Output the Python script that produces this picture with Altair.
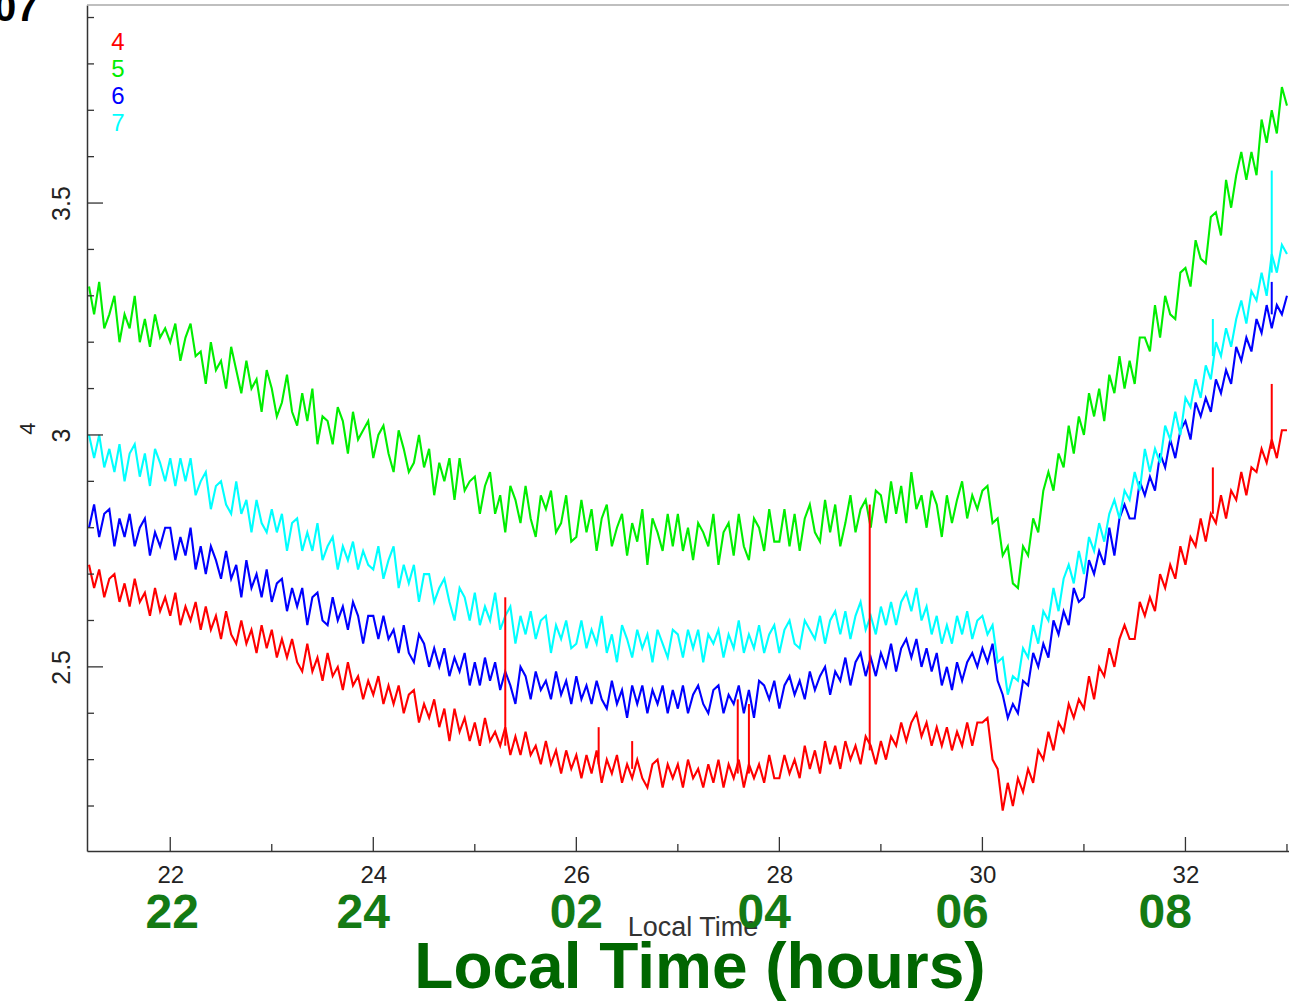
import altair as alt
import pandas as pd

SERIES = ["4", "5", "6", "7"]
COLORS = ["#ff0000", "#00ee00", "#0000ff", "#00ffff"]

# sampling times (hours), every 3 minutes from 21.20 to 33.00
TIMES = [round(21.2 + 0.05 * i, 2) for i in range(237)]

V4 = [
    2.72, 2.67, 2.71, 2.65, 2.69, 2.70, 2.64, 2.68, 2.63, 2.69, 2.64, 2.66, 2.61, 2.67, 2.62, 2.65,
    2.61, 2.66, 2.59, 2.63, 2.60, 2.64, 2.58, 2.63, 2.58, 2.61, 2.56, 2.62, 2.57, 2.55, 2.60, 2.55, 2.58, 2.53, 2.59, 2.54,
    2.58, 2.52, 2.56, 2.52, 2.56, 2.51, 2.49, 2.55, 2.49, 2.52, 2.47, 2.53, 2.48, 2.50, 2.45, 2.51, 2.46, 2.48, 2.43, 2.47,
    2.44, 2.48, 2.42, 2.46, 2.42, 2.46, 2.40, 2.44, 2.45, 2.38, 2.42, 2.39, 2.43, 2.37, 2.41, 2.34, 2.41, 2.36, 2.39, 2.34,
    2.38, 2.33, 2.39, 2.34, 2.36, 2.33, 2.37, 2.31, 2.35, 2.31, 2.36, 2.31, 2.33, 2.29, 2.34, 2.29, 2.32, 2.27, 2.32, 2.28,
    2.31, 2.26, 2.31, 2.27, 2.32, 2.25, 2.30, 2.27, 2.31, 2.25, 2.29, 2.26, 2.30, 2.26, 2.24, 2.29, 2.30, 2.24, 2.29, 2.26,
    2.29, 2.24, 2.30, 2.26, 2.28, 2.24, 2.29, 2.25, 2.30, 2.24, 2.29, 2.26, 2.30, 2.24, 2.29, 2.26, 2.29, 2.25, 2.31, 2.26,
    2.26, 2.31, 2.27, 2.30, 2.26, 2.33, 2.28, 2.32, 2.27, 2.34, 2.29, 2.33, 2.28, 2.34, 2.30, 2.33, 2.29, 2.35, 2.33, 2.29,
    2.34, 2.30, 2.35, 2.33, 2.38, 2.34, 2.38, 2.40, 2.35, 2.38, 2.33, 2.37, 2.33, 2.37, 2.32, 2.36, 2.33, 2.38, 2.33, 2.38,
    2.38, 2.39, 2.30, 2.28, 2.19, 2.25, 2.20, 2.26, 2.23, 2.28, 2.25, 2.32, 2.30, 2.36, 2.32, 2.38, 2.36, 2.42, 2.39, 2.43,
    2.41, 2.48, 2.43, 2.50, 2.48, 2.54, 2.50, 2.56, 2.59, 2.56, 2.56, 2.64, 2.61, 2.65, 2.62, 2.70, 2.67, 2.72, 2.69, 2.76,
    2.72, 2.78, 2.76, 2.82, 2.77, 2.83, 2.81, 2.87, 2.82, 2.88, 2.86, 2.92, 2.87, 2.93, 2.92, 2.97, 2.94, 2.99, 2.95, 3.01,
    3.01,
]

V5 = [
    3.32, 3.26, 3.33, 3.23, 3.26, 3.30, 3.20, 3.26, 3.23, 3.30, 3.20, 3.25, 3.19, 3.26, 3.21, 3.23,
    3.20, 3.24, 3.16, 3.21, 3.24, 3.17, 3.18, 3.11, 3.20, 3.14, 3.16, 3.10, 3.19, 3.14, 3.09, 3.16, 3.10, 3.12, 3.05, 3.14,
    3.10, 3.04, 3.07, 3.13, 3.05, 3.02, 3.09, 3.03, 3.10, 2.98, 3.04, 3.03, 2.98, 3.06, 3.03, 2.96, 3.05, 2.99, 3.01, 3.03,
    2.95, 3.00, 3.02, 2.96, 2.92, 3.01, 2.97, 2.92, 2.94, 3.00, 2.93, 2.97, 2.87, 2.94, 2.90, 2.95, 2.86, 2.95, 2.88, 2.90,
    2.91, 2.83, 2.89, 2.92, 2.83, 2.87, 2.79, 2.89, 2.86, 2.81, 2.89, 2.82, 2.78, 2.87, 2.84, 2.88, 2.79, 2.81, 2.87, 2.77,
    2.78, 2.86, 2.79, 2.84, 2.75, 2.82, 2.85, 2.76, 2.80, 2.83, 2.74, 2.81, 2.77, 2.84, 2.72, 2.82, 2.79, 2.75, 2.83, 2.76,
    2.83, 2.75, 2.80, 2.73, 2.81, 2.79, 2.76, 2.83, 2.72, 2.79, 2.81, 2.74, 2.83, 2.76, 2.73, 2.82, 2.80, 2.75, 2.84, 2.77,
    2.77, 2.84, 2.76, 2.83, 2.75, 2.82, 2.85, 2.79, 2.77, 2.86, 2.79, 2.85, 2.76, 2.81, 2.87, 2.79, 2.84, 2.86, 2.80, 2.88,
    2.87, 2.81, 2.90, 2.83, 2.89, 2.81, 2.92, 2.84, 2.87, 2.80, 2.88, 2.85, 2.78, 2.87, 2.81, 2.86, 2.90, 2.82, 2.87, 2.84,
    2.88, 2.89, 2.81, 2.82, 2.74, 2.76, 2.68, 2.67, 2.76, 2.74, 2.82, 2.79, 2.88, 2.92, 2.88, 2.96, 2.93, 3.02, 2.96, 3.04,
    3.00, 3.09, 3.04, 3.10, 3.03, 3.13, 3.09, 3.17, 3.10, 3.16, 3.11, 3.21, 3.21, 3.18, 3.28, 3.21, 3.30, 3.26, 3.25, 3.35,
    3.36, 3.32, 3.42, 3.38, 3.37, 3.47, 3.48, 3.43, 3.55, 3.49, 3.56, 3.61, 3.55, 3.61, 3.56, 3.68, 3.63, 3.70, 3.65, 3.75,
    3.71,
]

V6 = [
    2.80, 2.85, 2.78, 2.83, 2.84, 2.76, 2.82, 2.78, 2.83, 2.76, 2.80, 2.82, 2.74, 2.79, 2.76, 2.80,
    2.80, 2.73, 2.78, 2.74, 2.80, 2.71, 2.76, 2.70, 2.76, 2.73, 2.69, 2.75, 2.69, 2.72, 2.65, 2.73, 2.67, 2.70, 2.65, 2.71,
    2.64, 2.68, 2.69, 2.62, 2.67, 2.63, 2.67, 2.59, 2.65, 2.66, 2.60, 2.59, 2.65, 2.60, 2.63, 2.58, 2.64, 2.61, 2.55, 2.61,
    2.61, 2.56, 2.61, 2.56, 2.58, 2.53, 2.59, 2.53, 2.51, 2.57, 2.55, 2.50, 2.54, 2.50, 2.54, 2.48, 2.52, 2.49, 2.53, 2.46,
    2.51, 2.46, 2.52, 2.47, 2.51, 2.45, 2.49, 2.46, 2.42, 2.50, 2.48, 2.43, 2.49, 2.45, 2.47, 2.43, 2.49, 2.44, 2.47, 2.42,
    2.48, 2.43, 2.46, 2.42, 2.47, 2.43, 2.41, 2.47, 2.42, 2.45, 2.39, 2.46, 2.42, 2.46, 2.40, 2.45, 2.42, 2.46, 2.40, 2.45,
    2.41, 2.46, 2.40, 2.44, 2.46, 2.42, 2.40, 2.45, 2.46, 2.40, 2.44, 2.42, 2.46, 2.40, 2.45, 2.39, 2.47, 2.46, 2.43, 2.47,
    2.41, 2.46, 2.48, 2.44, 2.47, 2.43, 2.49, 2.45, 2.48, 2.50, 2.44, 2.49, 2.47, 2.52, 2.46, 2.51, 2.53, 2.48, 2.52, 2.48,
    2.53, 2.50, 2.55, 2.49, 2.54, 2.56, 2.52, 2.56, 2.50, 2.54, 2.49, 2.53, 2.46, 2.50, 2.45, 2.51, 2.47, 2.51, 2.53, 2.50,
    2.54, 2.51, 2.55, 2.47, 2.44, 2.39, 2.42, 2.40, 2.47, 2.46, 2.53, 2.50, 2.55, 2.52, 2.60, 2.57, 2.62, 2.59, 2.67, 2.64,
    2.65, 2.73, 2.70, 2.75, 2.72, 2.80, 2.74, 2.82, 2.85, 2.82, 2.82, 2.90, 2.87, 2.91, 2.88, 2.96, 2.93, 2.99, 2.95, 3.01,
    3.03, 2.99, 3.07, 3.04, 3.08, 3.05, 3.12, 3.09, 3.14, 3.11, 3.19, 3.16, 3.21, 3.18, 3.25, 3.22, 3.28, 3.23, 3.28, 3.26,
    3.30,
]

V7 = [
    3.00, 2.95, 3.00, 2.93, 2.97, 2.92, 2.98, 2.90, 2.96, 2.98, 2.91, 2.96, 2.89, 2.97, 2.94, 2.90,
    2.95, 2.89, 2.95, 2.90, 2.95, 2.87, 2.90, 2.92, 2.84, 2.89, 2.90, 2.85, 2.83, 2.90, 2.83, 2.86, 2.79, 2.86, 2.81, 2.79,
    2.84, 2.79, 2.83, 2.75, 2.81, 2.82, 2.75, 2.79, 2.75, 2.81, 2.73, 2.76, 2.78, 2.71, 2.76, 2.73, 2.77, 2.71, 2.75, 2.72,
    2.71, 2.76, 2.69, 2.73, 2.76, 2.67, 2.72, 2.68, 2.72, 2.64, 2.70, 2.70, 2.64, 2.67, 2.69, 2.64, 2.60, 2.67, 2.65, 2.60,
    2.66, 2.59, 2.63, 2.60, 2.66, 2.58, 2.61, 2.63, 2.55, 2.61, 2.57, 2.62, 2.56, 2.60, 2.61, 2.53, 2.59, 2.56, 2.60, 2.54,
    2.55, 2.60, 2.54, 2.58, 2.55, 2.61, 2.53, 2.57, 2.51, 2.59, 2.56, 2.52, 2.58, 2.54, 2.57, 2.51, 2.58, 2.55, 2.52, 2.58,
    2.57, 2.52, 2.58, 2.54, 2.58, 2.51, 2.57, 2.55, 2.58, 2.52, 2.57, 2.54, 2.60, 2.53, 2.57, 2.54, 2.59, 2.53, 2.57, 2.59,
    2.53, 2.58, 2.60, 2.55, 2.54, 2.60, 2.58, 2.56, 2.61, 2.55, 2.60, 2.62, 2.57, 2.62, 2.56, 2.61, 2.64, 2.58, 2.61, 2.57,
    2.63, 2.59, 2.64, 2.59, 2.64, 2.66, 2.62, 2.67, 2.60, 2.63, 2.57, 2.61, 2.55, 2.59, 2.55, 2.61, 2.57, 2.62, 2.56, 2.60,
    2.61, 2.57, 2.59, 2.51, 2.52, 2.44, 2.48, 2.47, 2.54, 2.52, 2.59, 2.55, 2.62, 2.60, 2.67, 2.62, 2.69, 2.72, 2.68, 2.75,
    2.70, 2.78, 2.75, 2.81, 2.77, 2.83, 2.86, 2.82, 2.88, 2.86, 2.92, 2.88, 2.97, 2.92, 2.97, 2.94, 3.02, 2.99, 3.05, 3.00,
    3.08, 3.06, 3.12, 3.08, 3.15, 3.12, 3.20, 3.17, 3.23, 3.19, 3.25, 3.29, 3.24, 3.31, 3.29, 3.35, 3.30, 3.39, 3.35, 3.41,
    3.39,
]

# isolated one-sample spikes (series, time, level before spike, spike top)
SPIKE_SERIES = ["4", "4", "4", "4", "4", "4", "4", "4", "7", "7", "6"]
SPIKE_T = [25.30, 26.22, 26.55, 27.59, 27.70, 28.89, 32.27, 32.85, 32.27, 32.85, 32.85]
SPIKE_BASE = [2.33, 2.29, 2.28, 2.27, 2.27, 2.32, 2.83, 2.97, 3.17, 3.35, 3.26]
SPIKE_TOP = [2.65, 2.37, 2.34, 2.43, 2.42, 2.85, 2.93, 3.11, 3.25, 3.57, 3.33]

X_MAJOR = [22, 24, 26, 28, 30, 32]
X_MINOR = [23, 25, 27, 29, 31, 33]
Y_MAJOR = [2.5, 3.0, 3.5]
Y_MINOR = [2.2, 2.3, 2.4, 2.6, 2.7, 2.8, 2.9, 3.1, 3.2, 3.3, 3.4, 3.6, 3.7, 3.8, 3.9]

HOUR_POS = [22.02, 23.9, 26.0, 27.85, 29.8, 31.8]
HOUR_TEXT = ["22", "24", "02", "04", "06", "08"]

X_DOMAIN = [21.18, 33.02]
Y_DOMAIN = [2.103, 3.927]

# ---------------------------------------------------------------- tables
rows = []
for s, vals in zip(SERIES, [V4, V5, V6, V7]):
    for t, v in zip(TIMES, vals):
        rows.append({"t": t, "v": v, "series": s})
df = pd.DataFrame(rows)

spikes = pd.DataFrame({"series": SPIKE_SERIES, "t": SPIKE_T,
                       "base": SPIKE_BASE, "top": SPIKE_TOP})
one = pd.DataFrame({"a": [0]})

W, H = 1202, 846
TICK_FONT = "Liberation Sans Narrow, Liberation Sans, Arial, sans-serif"
BOLD_FONT = "Liberation Sans, Arial, sans-serif"
AXIS_DARK = "#333333"

xs = alt.Scale(domain=X_DOMAIN, nice=False, zero=False)
ys = alt.Scale(domain=Y_DOMAIN, nice=False, zero=False)
col = alt.Color("series:N", scale=alt.Scale(domain=SERIES, range=COLORS), legend=None)

x_axis = alt.Axis(values=X_MAJOR, ticks=False, tickSize=0, grid=False,
                  domainColor=AXIS_DARK, domainWidth=1.5,
                  labelFont=TICK_FONT, labelFontSize=24, labelColor="#222222",
                  labelPadding=12, labelFlush=False, title=None)
y_axis = alt.Axis(values=Y_MAJOR, ticks=False, tickSize=0, grid=False,
                  domainColor=AXIS_DARK, domainWidth=1.5,
                  labelFont=TICK_FONT, labelFontSize=25, labelColor="#222222",
                  labelAngle=270, labelAlign="center", labelBaseline="bottom",
                  labelPadding=13, labelFlush=False, format="~g",
                  title="4", titleFont=TICK_FONT, titleFontSize=22,
                  titleFontWeight="normal", titleColor="#222222",
                  titleX=-60, titleY=H / 2, titleAlign="center",
                  titleBaseline="middle", titleAngle=270)


def X(field):
    return alt.X(field, scale=xs, axis=x_axis)


def Y(field):
    return alt.Y(field, scale=ys, axis=y_axis)


lines = alt.Chart(df).mark_line(strokeWidth=2.1, clip=True).encode(
    x=X("t:Q"), y=Y("v:Q"), color=col)

spike_rules = alt.Chart(spikes).mark_rule(strokeWidth=2).encode(
    x=X("t:Q"), y=Y("base:Q"), y2="top:Q", color=col)

xt_major = alt.Chart(pd.DataFrame({"t": X_MAJOR})).mark_rule(
    color=AXIS_DARK, strokeWidth=1.3).encode(
    x=X("t:Q"), y=alt.value(H), y2=alt.value(H - 14))
xt_minor = alt.Chart(pd.DataFrame({"t": X_MINOR})).mark_rule(
    color=AXIS_DARK, strokeWidth=1.3).encode(
    x=X("t:Q"), y=alt.value(H), y2=alt.value(H - 7))
yt_major = alt.Chart(pd.DataFrame({"v": Y_MAJOR})).mark_rule(
    color=AXIS_DARK, strokeWidth=1.3).encode(
    y=Y("v:Q"), x=alt.value(0), x2=alt.value(16))
yt_minor = alt.Chart(pd.DataFrame({"v": Y_MINOR})).mark_rule(
    color=AXIS_DARK, strokeWidth=1.3).encode(
    y=Y("v:Q"), x=alt.value(0), x2=alt.value(7))

border = alt.Chart(one).mark_rule(color="#aaaaaa", strokeWidth=1.5).encode(
    x=alt.value(0), x2=alt.value(W), y=alt.value(0))

legend_layers = [
    alt.Chart(one).mark_text(text=s, color=c, font=TICK_FONT, fontSize=24,
                             align="center", baseline="middle").encode(
        x=alt.value(31), y=alt.value(38 + 27 * i))
    for i, (s, c) in enumerate(zip(SERIES, COLORS))
]

small_title = alt.Chart(one).mark_text(
    text="Local Time", font=BOLD_FONT, fontSize=27, color="#333333",
    align="center", baseline="alphabetic").encode(
    x=alt.value(606), y=alt.value(931))

hour_labels = alt.Chart(pd.DataFrame({"t": HOUR_POS, "label": HOUR_TEXT})).mark_text(
    font=BOLD_FONT, fontWeight="bold", fontSize=48, color="#147a14",
    align="center", baseline="alphabetic").encode(
    x=X("t:Q"), y=alt.value(923), text="label:N")

big_title = alt.Chart(one).mark_text(
    text="Local Time (hours)", font=BOLD_FONT, fontWeight="bold", fontSize=64,
    color="#006600", align="center", baseline="alphabetic").encode(
    x=alt.value(613), y=alt.value(983))

corner = alt.Chart(one).mark_text(
    text="07", font=BOLD_FONT, fontWeight="bold", fontSize=40, color="#000000",
    align="left", baseline="alphabetic").encode(
    x=alt.value(-93), y=alt.value(16))

chart = alt.layer(
    lines, spike_rules, border, xt_major, xt_minor, yt_major, yt_minor,
    *legend_layers, small_title, hour_labels, big_title, corner,
).properties(
    width=W, height=H,
    padding={"left": 87, "top": 5, "right": 0, "bottom": 152},
    autosize=alt.AutoSizeParams(type="none"),
    background="white",
).configure_view(stroke=None)

chart.save("out.html", embed_options={"renderer": "svg", "actions": False})
